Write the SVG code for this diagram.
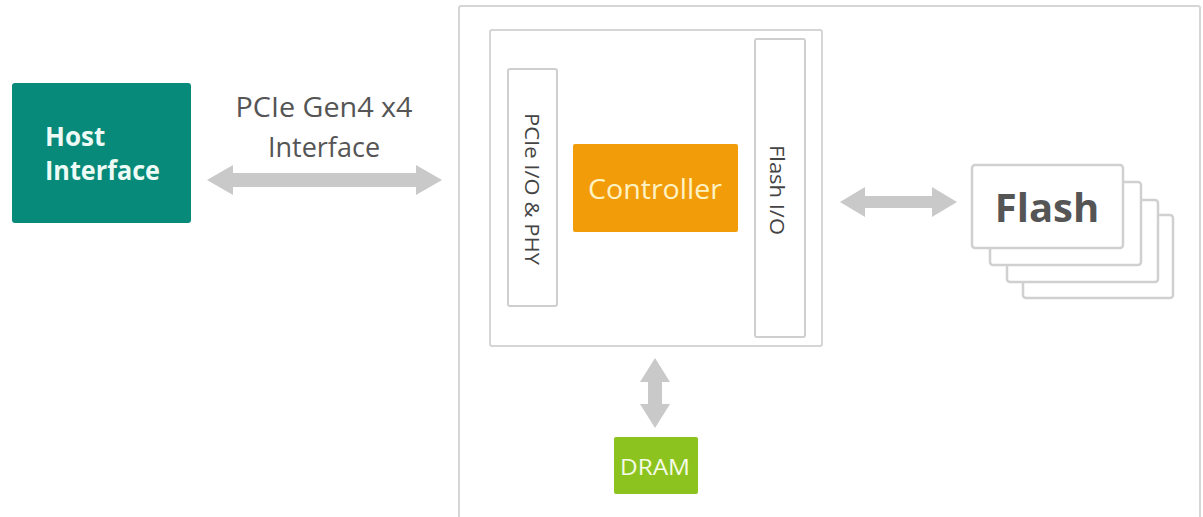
<svg xmlns="http://www.w3.org/2000/svg" width="1203" height="517" viewBox="0 0 1203 517">
<style>
.frame{fill:#fff;stroke:#d6d6d6;stroke-width:2}
.bar{fill:#fff;stroke:#cfcfcf;stroke-width:2}
.card{fill:#fff;stroke:#d0d0d0;stroke-width:2.5}
.arrow{fill:#c9c9c9}
.t{font-family:"Open Sans","Noto Sans","DejaVu Sans",sans-serif}
</style>
<rect width="1203" height="517" fill="#fff"/>
<g id="ssd-board"><rect class="frame" x="459" y="6" width="741" height="530" rx="2"/></g>
<g id="chip"><rect class="frame" x="490" y="30" width="332" height="316" rx="2"/></g>
<g id="pcie-io">
<rect class="bar" x="508" y="69" width="49" height="237" rx="2"/>
<text class="t" transform="translate(532,189) rotate(90)" text-anchor="middle" dominant-baseline="central" font-size="20" fill="#444" textLength="152" lengthAdjust="spacingAndGlyphs">PCIe I/O &amp; PHY</text>
</g>
<g id="flash-io">
<rect class="bar" x="755" y="39" width="50" height="298" rx="2"/>
<text class="t" transform="translate(777,190) rotate(90)" text-anchor="middle" dominant-baseline="central" font-size="20" fill="#444" textLength="90" lengthAdjust="spacingAndGlyphs">Flash I/O</text>
</g>
<g id="controller">
<rect x="573" y="144" width="165" height="88" rx="2" fill="#f29c0a"/>
<text class="t" x="655" y="199" text-anchor="middle" font-size="28" fill="#fff3c4" textLength="134" lengthAdjust="spacingAndGlyphs">Controller</text>
</g>
<g id="host">
<rect x="12" y="83" width="179" height="140" rx="3" fill="#078a79"/>
<text class="t" font-size="26" font-weight="bold" fill="#eefaf5"><tspan x="45" y="146">Host</tspan><tspan x="45" y="180" textLength="115" lengthAdjust="spacingAndGlyphs">Interface</tspan></text>
</g>
<g id="pcie-label">
<text class="t" font-size="27" fill="#555" text-anchor="middle"><tspan x="324" y="117" textLength="177" lengthAdjust="spacingAndGlyphs">PCIe Gen4 x4</tspan><tspan x="324" y="157">Interface</tspan></text>
</g>
<g id="flash">
<rect class="card" x="1023" y="215" width="150" height="83" rx="3"/>
<rect class="card" x="1007" y="200" width="151" height="82" rx="3"/>
<rect class="card" x="990" y="182" width="151" height="83" rx="3"/>
<rect class="card" x="972" y="165" width="151" height="83" rx="3"/>
<text class="t" x="1047" y="222" text-anchor="middle" font-size="40" font-weight="bold" fill="#555">Flash</text>
</g>
<g id="dram">
<rect x="614" y="437" width="84" height="57" rx="2" fill="#8cc31f"/>
<text class="t" x="655" y="475" text-anchor="middle" font-size="22" fill="#f4fbe6" textLength="70" lengthAdjust="spacingAndGlyphs">DRAM</text>
</g>
<g id="connectors">
<polygon class="arrow" points="207,180 233,165 233,173 416,173 416,165 442,180 416,195 416,187 233,187 233,195"/>
<polygon class="arrow" points="840,202 865,187 865,196 932,196 932,187 957,202 932,217 932,208 865,208 865,217"/>
<polygon class="arrow" points="655,358 670,382 662,382 662,404 670,404 655,428 640,404 648,404 648,382 640,382"/>
</g>
</svg>
